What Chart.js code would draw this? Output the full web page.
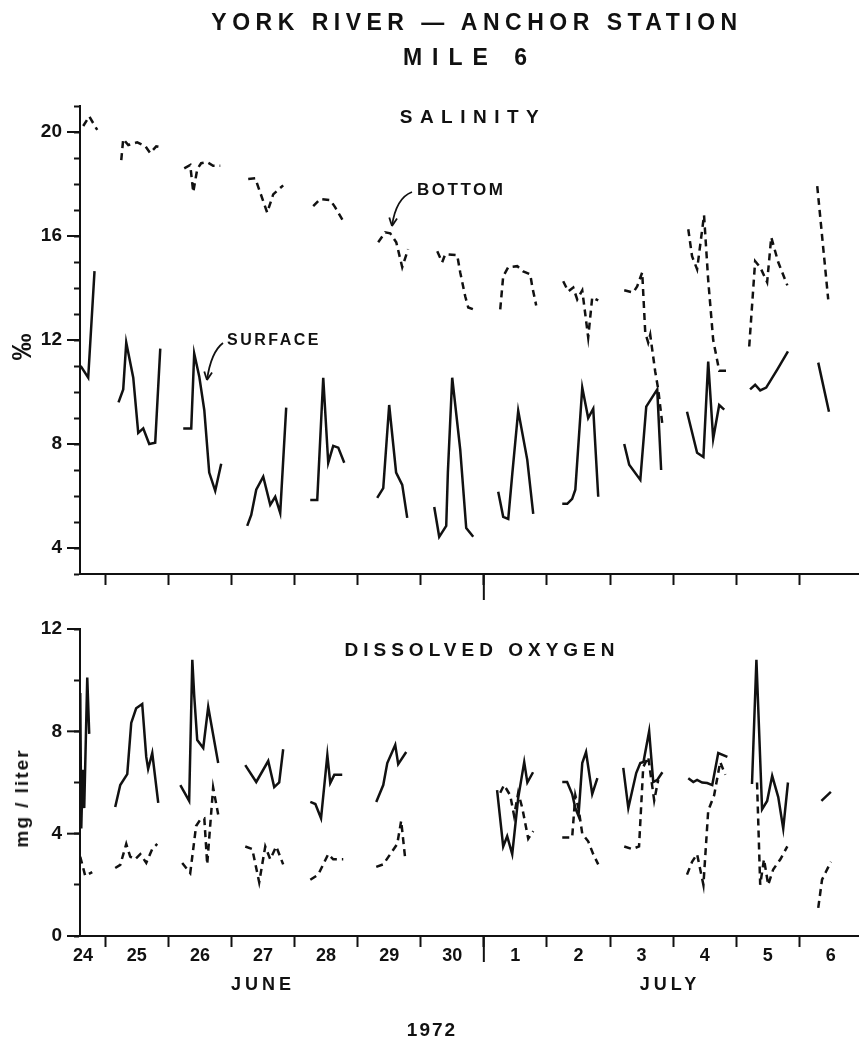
<!DOCTYPE html>
<html>
<head>
<meta charset="utf-8">
<script src="https://cdn.jsdelivr.net/npm/chart.js@4.4.1/dist/chart.umd.min.js"></script>
<style>
  body { margin: 0; background: #fff; width: 859px; height: 1044px; position: relative; overflow: hidden;
         font-family: "Liberation Sans", Arial, sans-serif; color: #111; }
  .t { position: absolute; font-weight: bold; white-space: nowrap; transform: translate(-50%, -50%); z-index: 2; }
  .l { position: absolute; font-weight: bold; white-space: nowrap; transform: translateY(-50%); z-index: 2; }
  .r { position: absolute; font-weight: bold; white-space: nowrap; transform: translate(-50%, -50%) rotate(-90deg); z-index: 2; }
  canvas { position: absolute; left: 0; }
</style>
</head>
<body>
<div class="t" style="left:477px;top:22px;font-size:23px;letter-spacing:5.5px">YORK RIVER — ANCHOR STATION</div>
<div class="t" style="left:470px;top:57px;font-size:23px;letter-spacing:10px">MILE 6</div>
<div class="t" style="left:473px;top:117px;font-size:19px;letter-spacing:7.5px">SALINITY</div>
<div class="l" style="left:417px;top:190px;font-size:17px;letter-spacing:2.5px">BOTTOM</div>
<div class="l" style="left:227px;top:340px;font-size:16px;letter-spacing:2.5px">SURFACE</div>
<div class="t" style="left:482px;top:650px;font-size:19px;letter-spacing:5px">DISSOLVED OXYGEN</div>
<div class="r" style="left:22px;top:347px;font-size:27px">‰</div>
<div class="r" style="left:22px;top:798px;font-size:19px;letter-spacing:2px">mg / liter</div>
<div class="t" style="left:263px;top:984px;font-size:18px;letter-spacing:4px">JUNE</div>
<div class="t" style="left:670px;top:984px;font-size:18px;letter-spacing:4px">JULY</div>
<div class="t" style="left:432px;top:1030px;font-size:19px;letter-spacing:2px">1972</div>

<canvas id="c1" width="859" height="620" style="top:0"></canvas>
<canvas id="c2" width="859" height="444" style="top:600px"></canvas>

<script>
// x = days since 24 June 1972 00:00
const dayTicks = [1, 2, 3, 4, 5, 6, 7, 8, 9, 10, 11, 12];
const dayLabels = ['24', '25', '26', '27', '28', '29', '30', '1', '2', '3', '4', '5', '6'];
const monthBreak = 7;

// salinity, surface (solid), one segment per day
const salinitySurface = [
  [[0.61, 11.0], [0.73, 10.55], [0.83, 14.65]],
  [[1.21, 9.6], [1.285, 10.1], [1.333, 11.9], [1.444, 10.55], [1.523, 8.43], [1.602, 8.6], [1.697, 8.0], [1.792, 8.05], [1.872, 11.67]],
  [[2.236, 8.6], [2.363, 8.6], [2.41, 11.48], [2.49, 10.6], [2.57, 9.3], [2.648, 6.9], [2.743, 6.2], [2.838, 7.24]],
  [[3.25, 4.85], [3.314, 5.27], [3.393, 6.24], [3.504, 6.74], [3.615, 5.66], [3.694, 5.97], [3.773, 5.35], [3.868, 9.4]],
  [[4.249, 5.85], [4.36, 5.85], [4.455, 10.55], [4.534, 7.28], [4.613, 7.93], [4.693, 7.86], [4.788, 7.28]],
  [[5.31, 5.93], [5.406, 6.3], [5.5, 9.5], [5.61, 6.9], [5.707, 6.43], [5.786, 5.16]],
  [[6.214, 5.58], [6.293, 4.43], [6.404, 4.85], [6.43, 6.9], [6.499, 10.55], [6.626, 7.78], [6.721, 4.77], [6.832, 4.43]],
  [[7.228, 6.16], [7.307, 5.2], [7.387, 5.12], [7.45, 6.82], [7.545, 9.28], [7.688, 7.4], [7.783, 5.31]],
  [[8.243, 5.7], [8.322, 5.7], [8.40, 5.89], [8.45, 6.24], [8.56, 10.17], [8.654, 9.0], [8.734, 9.36], [8.813, 5.97]],
  [[9.225, 8.0], [9.304, 7.2], [9.48, 6.62], [9.574, 9.44], [9.748, 10.1], [9.81, 7.0]],
  [[10.22, 9.24], [10.38, 7.66], [10.48, 7.5], [10.556, 11.17], [10.635, 8.2], [10.73, 9.5], [10.81, 9.32]],
  [[11.22, 10.1], [11.30, 10.28], [11.38, 10.06], [11.475, 10.17], [11.65, 10.86], [11.82, 11.56]],
  [[12.30, 11.13], [12.47, 9.24]]
];

// salinity, bottom (dashed)
const salinityBottom = [
  [[0.651, 20.23], [0.746, 20.6], [0.873, 20.08]],
  [[1.254, 18.92], [1.285, 19.73], [1.365, 19.5], [1.507, 19.6], [1.634, 19.46], [1.713, 19.19], [1.808, 19.45], [1.903, 19.4]],
  [[2.252, 18.6], [2.347, 18.73], [2.395, 17.69], [2.458, 18.57], [2.52, 18.8], [2.616, 18.84], [2.71, 18.7], [2.823, 18.7]],
  [[3.266, 18.19], [3.377, 18.22], [3.567, 16.9], [3.662, 17.6], [3.82, 17.95]],
  [[4.296, 17.15], [4.407, 17.42], [4.566, 17.38], [4.645, 17.1], [4.772, 16.57]],
  [[5.326, 15.76], [5.437, 16.14], [5.517, 16.1], [5.612, 15.76], [5.707, 14.8], [5.80, 15.49]],
  [[6.262, 15.41], [6.34, 14.99], [6.388, 15.3], [6.578, 15.26], [6.626, 14.6], [6.705, 13.68], [6.753, 13.25], [6.832, 13.18]],
  [[7.26, 13.18], [7.307, 14.45], [7.387, 14.8], [7.53, 14.84], [7.624, 14.64], [7.735, 14.53], [7.767, 14.06], [7.83, 13.33]],
  [[8.258, 14.26], [8.338, 13.87], [8.417, 14.02], [8.48, 13.56], [8.56, 13.91], [8.654, 12.1], [8.718, 13.64], [8.813, 13.52]],
  [[9.225, 13.91], [9.368, 13.83], [9.43, 14.06], [9.51, 14.6], [9.558, 12.29], [9.605, 11.9], [9.637, 12.2], [9.716, 10.79], [9.764, 10.1], [9.83, 8.74]],
  [[10.24, 16.26], [10.30, 15.22], [10.38, 14.72], [10.49, 16.8], [10.556, 14.3], [10.635, 12.0], [10.73, 10.82], [10.84, 10.82]],
  [[11.206, 11.75], [11.30, 15.03], [11.38, 14.8], [11.49, 14.22], [11.555, 15.95], [11.665, 15.0], [11.81, 14.1]],
  [[12.284, 17.92], [12.458, 13.56]]
];

// dissolved oxygen, surface (solid)
const oxygenSurface = [
  [[0.604, 9.5], [0.62, 4.2], [0.643, 6.5], [0.667, 5.0], [0.715, 10.1], [0.746, 7.9]],
  [[1.158, 5.04], [1.238, 5.9], [1.349, 6.33], [1.412, 8.33], [1.49, 8.9], [1.586, 9.07], [1.65, 7.0], [1.68, 6.53], [1.745, 7.15], [1.84, 5.2]],
  [[2.19, 5.9], [2.33, 5.28], [2.38, 10.8], [2.41, 9.4], [2.458, 7.66], [2.553, 7.35], [2.632, 8.95], [2.79, 6.76]],
  [[3.219, 6.68], [3.393, 6.02], [3.583, 6.84], [3.678, 5.82], [3.757, 6.0], [3.82, 7.3]],
  [[4.25, 5.24], [4.33, 5.16], [4.42, 4.6], [4.52, 7.07], [4.566, 5.98], [4.63, 6.3], [4.756, 6.3]],
  [[5.295, 5.24], [5.406, 5.9], [5.47, 6.76], [5.596, 7.47], [5.643, 6.72], [5.77, 7.19]],
  [[7.21, 5.7], [7.307, 3.5], [7.37, 3.9], [7.45, 3.2], [7.545, 5.4], [7.64, 6.8], [7.69, 6.0], [7.78, 6.4]],
  [[8.243, 6.02], [8.32, 6.02], [8.40, 5.55], [8.45, 5.0], [8.5, 4.7], [8.56, 6.76], [8.62, 7.19], [8.718, 5.55], [8.80, 6.17]],
  [[9.21, 6.57], [9.29, 5.0], [9.415, 6.37], [9.48, 6.76], [9.53, 6.8], [9.62, 8.0], [9.685, 6.02], [9.748, 6.1], [9.83, 6.4]],
  [[10.24, 6.17], [10.32, 6.02], [10.38, 6.1], [10.46, 6.0], [10.54, 5.98], [10.62, 5.9], [10.715, 7.15], [10.86, 7.0]],
  [[11.25, 5.94], [11.32, 10.8], [11.41, 4.95], [11.49, 5.28], [11.57, 6.26], [11.666, 5.43], [11.745, 4.2], [11.82, 6.0]],
  [[12.35, 5.28], [12.5, 5.63]]
];

// dissolved oxygen, bottom (dashed)
const oxygenBottom = [
  [[0.604, 3.1], [0.683, 2.35], [0.794, 2.5]],
  [[1.158, 2.66], [1.238, 2.78], [1.333, 3.6], [1.396, 3.1], [1.475, 3.0], [1.555, 3.2], [1.65, 2.86], [1.745, 3.4], [1.824, 3.6]],
  [[2.22, 2.85], [2.347, 2.46], [2.44, 4.3], [2.506, 4.55], [2.57, 4.6], [2.616, 2.8], [2.71, 5.8], [2.79, 4.75]],
  [[3.219, 3.5], [3.33, 3.4], [3.44, 2.1], [3.536, 3.5], [3.615, 3.0], [3.71, 3.5], [3.82, 2.8]],
  [[4.25, 2.2], [4.376, 2.4], [4.455, 2.8], [4.534, 3.2], [4.613, 3.0], [4.772, 3.0]],
  [[5.295, 2.7], [5.406, 2.8], [5.517, 3.2], [5.628, 3.6], [5.69, 4.5], [5.755, 3.0]],
  [[7.26, 5.6], [7.32, 5.9], [7.418, 5.5], [7.48, 4.7], [7.545, 5.6], [7.61, 5.0], [7.704, 3.8], [7.783, 4.1]],
  [[8.243, 3.85], [8.40, 3.85], [8.45, 5.5], [8.5, 5.0], [8.56, 4.0], [8.654, 3.7], [8.734, 3.2], [8.813, 2.8]],
  [[9.225, 3.5], [9.35, 3.4], [9.46, 3.5], [9.526, 6.6], [9.605, 7.0], [9.7, 5.3], [9.764, 6.1]],
  [[10.22, 2.4], [10.3, 2.9], [10.38, 3.2], [10.48, 2.0], [10.556, 4.9], [10.65, 5.5], [10.746, 6.8], [10.826, 6.3]],
  [[11.33, 6.0], [11.38, 2.0], [11.44, 3.0], [11.507, 2.0], [11.586, 2.6], [11.70, 3.0], [11.81, 3.5]],
  [[12.3, 1.1], [12.36, 2.2], [12.42, 2.5], [12.5, 2.9]]
];

const ink = '#111';
const tickFont = { family: '"Liberation Sans", Arial, sans-serif', size: 19, weight: 'bold' };

// Flattens day segments into one point list with null breaks between them.
function toPoints(segments) {
  const pts = [];
  segments.forEach((seg, i) => {
    if (i > 0) pts.push({ x: (segments[i - 1][segments[i - 1].length - 1][0] + seg[0][0]) / 2, y: null });
    seg.forEach(p => pts.push({ x: p[0], y: p[1] }));
  });
  return pts;
}

function line(ctx, x1, y1, x2, y2) {
  ctx.beginPath(); ctx.moveTo(x1, y1); ctx.lineTo(x2, y2); ctx.stroke();
}

function arrow(ctx, sx, sy, cx, cy, tx, ty) {
  ctx.beginPath(); ctx.moveTo(sx, sy); ctx.quadraticCurveTo(cx, cy, tx, ty); ctx.stroke();
  const ang = Math.atan2(ty - cy, tx - cx);
  [0.45, -0.45].forEach(d => {
    line(ctx, tx, ty, tx - 9 * Math.cos(ang + d), ty - 9 * Math.sin(ang + d));
  });
}

// extra axis marks: longer major y ticks, the month break tick, day labels, arrows
const extras = {
  id: 'extras',
  afterDraw(chart, args, o) {
    const ctx = chart.ctx, xs = chart.scales.x, ys = chart.scales.y, a = chart.chartArea;
    ctx.save();
    ctx.strokeStyle = ink;
    ctx.lineWidth = 2;
    ys.ticks.forEach(t => {
      if (t.value % 4 === 0) {
        const y = ys.getPixelForValue(t.value);
        line(ctx, a.left - 13, y, a.left, y);
      }
    });
    const xm = xs.getPixelForValue(monthBreak);
    line(ctx, xm, a.bottom, xm, a.bottom + 26);
    if (o.dayLabels) {
      ctx.fillStyle = ink;
      ctx.font = 'bold 18px "Liberation Sans", Arial, sans-serif';
      ctx.textAlign = 'center';
      ctx.textBaseline = 'middle';
      dayLabels.forEach((lab, i) => {
        const x = Math.max(xs.getPixelForValue(i + 0.5), a.left + 3);
        ctx.fillText(lab, x, a.bottom + 20);
      });
    }
    if (o.arrows) {
      ctx.lineWidth = 1.8;
      arrow(ctx, 412, 192, 396, 198, 392, 226);
      arrow(ctx, 223, 343, 211, 352, 207, 380);
    }
    ctx.restore();
  }
};

function makePanel(canvas, cfg) {
  return new Chart(canvas, {
    type: 'line',
    data: {
      datasets: [
        { data: toPoints(cfg.solid), borderColor: ink, borderWidth: 2.5, pointRadius: 0, tension: 0, spanGaps: false },
        { data: toPoints(cfg.dashed), borderColor: ink, borderWidth: 2.5, borderDash: [7, 5], pointRadius: 0, tension: 0, spanGaps: false }
      ]
    },
    options: {
      responsive: false,
      animation: false,
      layout: { padding: cfg.padding },
      plugins: { legend: { display: false }, tooltip: { enabled: false }, extras: cfg.extras },
      scales: {
        x: {
          type: 'linear', min: 0.6, max: 12.93,
          afterBuildTicks: s => { s.ticks = dayTicks.map(v => ({ value: v })); },
          afterFit: s => { s.height = 30; },
          ticks: { display: false },
          grid: { drawOnChartArea: false, drawTicks: true, tickLength: 11, tickWidth: 2, tickColor: ink },
          border: { display: true, color: ink, width: 2 }
        },
        y: {
          min: cfg.yMin, max: cfg.yMax,
          afterFit: s => { s.width = 80; },
          ticks: { stepSize: 1, color: ink, font: tickFont, padding: 12, callback: v => (v % 4 === 0 ? String(v) : '') },
          grid: { drawOnChartArea: false, drawTicks: true, tickLength: 6, tickWidth: 2, tickColor: ink },
          border: { display: true, color: ink, width: 2 }
        }
      }
    },
    plugins: [extras]
  });
}

makePanel(document.getElementById('c1'), {
  solid: salinitySurface, dashed: salinityBottom, yMin: 3, yMax: 21,
  padding: { top: 106, right: 1, bottom: 16, left: 0 },
  extras: { arrows: true }
});

makePanel(document.getElementById('c2'), {
  solid: oxygenSurface, dashed: oxygenBottom, yMin: 0, yMax: 12,
  padding: { top: 29, right: 1, bottom: 78, left: 0 },
  extras: { dayLabels: true }
});
</script>
</body>
</html>
